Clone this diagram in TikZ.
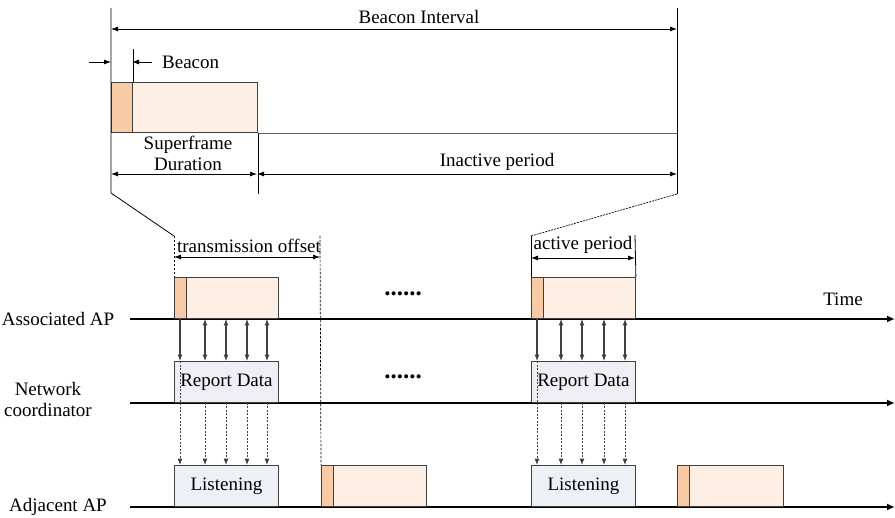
\documentclass[tikz,border=0pt]{standalone}
\usepackage{fontspec}
\setmainfont{Liberation Serif}
\usetikzlibrary{arrows.meta}
\definecolor{beaconc}{HTML}{F8CBA5}
\definecolor{framec}{HTML}{FDEFE4}
\definecolor{reportc}{HTML}{EFEEF4}
\definecolor{listenc}{HTML}{EDF1F6}
\definecolor{edgec}{HTML}{404040}
\begin{document}
\begin{tikzpicture}[x=1pt,y=-1pt,
  font=\rmfamily\fontsize{19}{22}\selectfont,
  frame/.style={draw=edgec, fill=framec, line width=0.9pt, inner sep=0pt,
    minimum width=104pt, minimum height=41pt, anchor=south west},
  bcn/.style={draw=edgec, fill=beaconc, line width=0.9pt, inner sep=0pt,
    minimum width=12pt, minimum height=41pt, anchor=south west},
  databox/.style={draw=edgec, line width=0.9pt, inner sep=0pt,
    minimum width=104pt, minimum height=41pt, anchor=south west},
  guide/.style={line width=0.8pt, draw=black},
  dguide/.style={line width=0.7pt, draw=black, dash pattern=on 2.5pt off 1.5pt},
  dimarrow/.style={line width=0.8pt, {Latex[length=7pt,width=5pt]}-{Latex[length=7pt,width=5pt]}},
  onearrow/.style={line width=0.8pt, -{Latex[length=7pt,width=5pt]}},
  timeline/.style={line width=1.6pt, -{Latex[length=8pt,width=7pt]}},
  sarrow/.style={line width=1.1pt, draw=black!75, -{Latex[length=6.5pt,width=5pt]}},
  barrow/.style={line width=1.1pt, draw=black!75, {Latex[length=6.5pt,width=5pt]}-{Latex[length=6.5pt,width=5pt]}},
  darrow/.style={line width=0.9pt, draw=black!75, dash pattern=on 2pt off 1.5pt, -{Latex[length=6.5pt,width=5pt]}},
  lbl/.style={inner sep=0pt, align=center}
]
\useasboundingbox (0,0) rectangle (895,518);

% ---------- superframe structure ----------
\coordinate (biL) at (111,8);
\coordinate (biR) at (677,8);
\coordinate (biLb) at (111,193);
\coordinate (biRb) at (677,194);
\coordinate (actL) at (174,236);
\coordinate (actR) at (531,236);

\node[draw=edgec, fill=framec, line width=0.9pt, inner sep=0pt, minimum width=146pt,
  minimum height=50pt, anchor=south west] (sf) at (111,133) {};
\node[draw=edgec, fill=beaconc, line width=0.9pt, inner sep=0pt, minimum width=21pt,
  minimum height=50pt, anchor=south west] (sfb) at (111,133) {};
\draw[line width=0.9pt, draw=black!60] (sf.south east) -- (biR |- sf.south);

\draw[guide] (biL) -- (biLb) -- (actL);
\draw[guide] (biR) -- (biRb);
\draw[line width=0.7pt, dash pattern=on 2pt off 1pt] (biRb) -- (actR);
\draw[guide] (sfb.north east) ++(0,-33) -- (sfb.north east);
\draw[guide] (sf.south east) -- ++(0,61);

% beacon interval
\draw[dimarrow] (111,29) coordinate (bi1) -- (677,29) coordinate (bi2);
\node[lbl] (bitxt) at (419,17) {Beacon Interval};

% beacon length marks
\coordinate (bm1) at (89,62);
\coordinate (bm2) at (152,62);
\draw[onearrow] (bm1) -- (111,62);
\draw[onearrow] (bm2) -- (132,62);
\node[lbl, anchor=west] (btxt) at (162,62) {Beacon};

% superframe duration and inactive period
\draw[dimarrow] (111,174) -- (257,174);
\draw[dimarrow] (257,174) -- (677,174);
\node[lbl] (sdtxt) at (188,153) {Superframe\\[-1pt]Duration};
\node[lbl] (iptxt) at (497,162) {Inactive period};

% ---------- time lines ----------
\coordinate (ap0) at (130,319);
\coordinate (nc0) at (130,403);
\coordinate (ad0) at (130,507);
\draw[timeline] (ap0) -- (895,319) coordinate (ap1);
\draw[timeline] (nc0) -- (895,403) coordinate (nc1);
\draw[timeline] (ad0) -- (895,507) coordinate (ad1);

\node[lbl] (apname) at (58,319) {Associated AP};
\node[lbl] (ncname) at (48,400) {Network\\[-1pt]coordinator};
\node[lbl] (adname) at (58,507) {Adjacent AP};
\node[lbl] (timetxt) at (843,299) {Time};

% ---------- associated AP frames ----------
\node[frame] (f1) at (174,319) {};
\node[bcn] (b1) at (174,319) {};
\node[frame] (f2) at (531,319) {};
\node[bcn] (b2) at (531,319) {};

% ---------- network coordinator data ----------
\node[databox, fill=reportc] (r1) at (174,403) {Report Data};
\node[databox, fill=reportc] (r2) at (531,403) {Report Data};

% ---------- adjacent AP ----------
\node[databox, fill=listenc] (l1) at (174,507) {Listening};
\node[databox, fill=listenc] (l2) at (531,507) {Listening};
\node[frame, minimum width=105pt] (f3) at (321,507) {};
\node[bcn] (b3) at (321,507) {};
\node[frame, minimum width=106pt] (f4) at (677,507) {};
\node[bcn] (b4) at (677,507) {};

% transmission offset
\draw[dguide] (actL) -- (f1.north west);
\draw[dguide] (320,236) coordinate (toR) -- (f3.north west);
\draw[dimarrow] (174,257) -- (320,257);
\node[lbl] (totxt) at (249,246) {transmission offset};

% active period
\draw[guide] (actR) -- (f2.north west);
\draw[guide] (635,235) coordinate (apR) -- (f2.north east);
\draw[dimarrow] (531,258) -- (635,258);
\node[lbl] (aptxt) at (583,245) {active period};

% dots
\node[lbl, font=\rmfamily\fontsize{25}{25}\bfseries\selectfont] (dots1) at (403,294) {......};
\node[lbl, font=\rmfamily\fontsize{25}{25}\bfseries\selectfont] (dots2) at (403,377) {......};

% ---------- exchanges, first superframe ----------
\draw[sarrow] ([xshift=6pt]f1.south west) -- ([xshift=6pt]r1.north west);
\foreach \dx in {31,52,73,93}{
  \draw[barrow] ([xshift=\dx pt]f1.south west) -- ([xshift=\dx pt]r1.north west);
  \draw[darrow] ([xshift=\dx pt]r1.south west) -- ([xshift=\dx pt]l1.north west);
}
\draw[darrow] ([xshift=6pt]r1.north west) -- ([xshift=6pt]l1.north west);

% ---------- exchanges, later superframe ----------
\draw[sarrow] ([xshift=6pt]f2.south west) -- ([xshift=6pt]r2.north west);
\foreach \dx in {30,51,73,94}{
  \draw[barrow] ([xshift=\dx pt]f2.south west) -- ([xshift=\dx pt]r2.north west);
  \draw[darrow] ([xshift=\dx pt]r2.south west) -- ([xshift=\dx pt]l2.north west);
}
\draw[darrow] ([xshift=6pt]r2.north west) -- ([xshift=6pt]l2.north west);
\end{tikzpicture}
\end{document}
